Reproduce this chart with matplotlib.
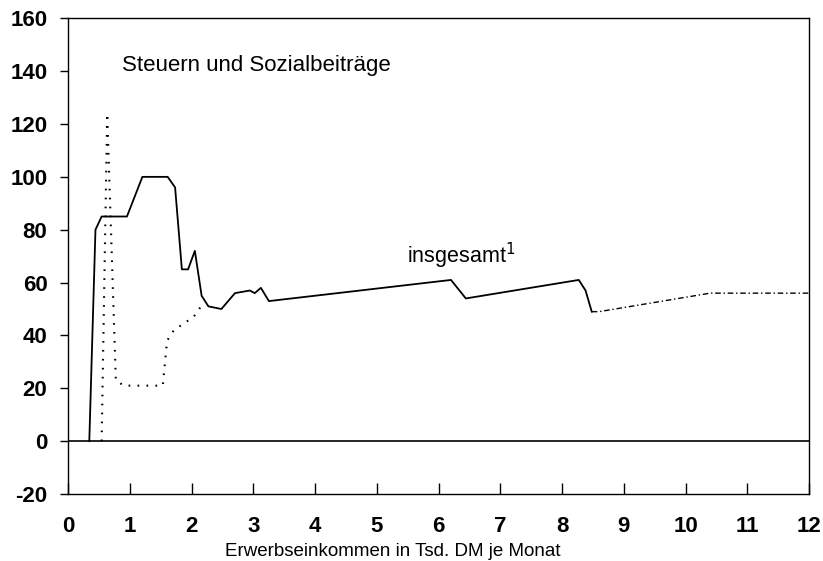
import numpy as np
import matplotlib
matplotlib.use('Agg')
import matplotlib.pyplot as plt

plt.rcParams['font.family'] = ['Liberation Sans', 'DejaVu Sans']
plt.rcParams['axes.unicode_minus'] = False

# insgesamt (solid line)
x_total = [0.34, 0.44, 0.54, 0.95, 1.2, 1.61, 1.73, 1.84, 1.94, 2.05, 2.16, 2.27,
           2.48, 2.7, 2.94, 3.02, 3.12, 3.25, 6.2, 6.44, 8.27, 8.38, 8.48]
y_total = [0, 80, 85, 85, 100, 100, 96, 65, 65, 72, 55, 51,
           50, 56, 57, 56, 58, 53, 61, 54, 61, 57, 49]
# faint continuation of insgesamt
x_tail = [8.48, 8.6, 10.4, 12.0]
y_tail = [49, 49, 56, 56]
# Steuern und Sozialbeitraege (dotted line)
x_soz = [0.54, 0.63, 0.77, 0.9, 1.53, 1.6, 1.71, 2.03, 2.15]
y_soz = [0, 124, 23, 21, 21, 38, 42, 47, 51]

x_ticks = list(range(0, 13))
y_ticks = list(range(-20, 161, 20))


def main():
	fig = plt.figure(figsize=(8.23, 5.61), dpi=100)
	ax = fig.add_axes([0.083, 0.1194, 0.9, 0.8480])

	ax.plot(x_total, y_total, color='black', lw=1.3)
	ax.plot(x_tail, y_tail, color='black', lw=1.0, ls=(0, (4, 2, 1, 2)))
	ax.plot(x_soz, y_soz, color='black', lw=1.5, ls=(0, (0.8, 3.5)))

	ax.axhline(0, color='black', lw=1.2)

	ax.set_xlim(0, 12)
	ax.set_ylim(-20, 160)
	ax.set_xticks(x_ticks)
	ax.set_yticks(y_ticks)
	ax.tick_params(axis='x', direction='in', length=8, width=1, labelsize=16, pad=16)
	ax.tick_params(axis='y', direction='out', length=6, width=1, labelsize=16, pad=9)
	for lab in ax.get_xticklabels() + ax.get_yticklabels():
		lab.set_fontweight('bold')
	for s in ax.spines.values():
		s.set_linewidth(1.0)

	ax.text(0.87, 142, 'Steuern und Sozialbeiträge', fontsize=16, va='center')
	ax.text(5.49, 70, 'insgesamt$^{1}$', fontsize=15.5, va='center')

	fig.text(393 / 823, 1 - 551 / 561, 'Erwerbseinkommen in Tsd. DM je Monat',
		fontsize=13.5, ha='center', va='center')

	fig.savefig('out.png', dpi=100)


if __name__ == '__main__':
	main()
